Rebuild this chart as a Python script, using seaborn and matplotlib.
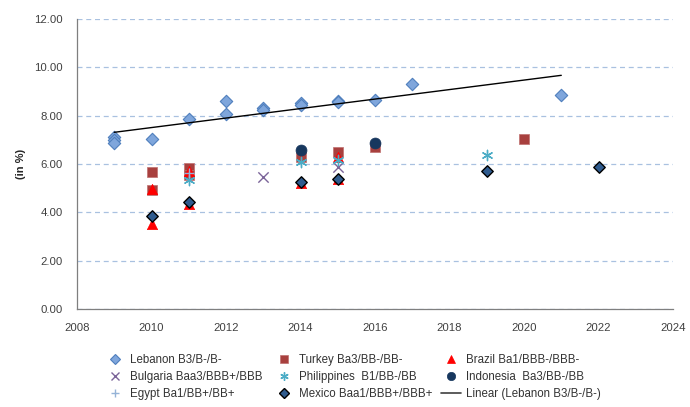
import numpy as np
import pandas as pd
import seaborn as sns
import matplotlib.pyplot as plt
from matplotlib.lines import Line2D

# values
lebanon_year = [2009, 2009, 2009, 2010, 2011, 2012, 2012, 2013, 2013, 2014, 2014, 2015, 2015, 2016, 2017, 2021]
lebanon_val = [7.10, 7.00, 6.85, 7.02, 7.86, 8.59, 8.05, 8.33, 8.23, 8.51, 8.45, 8.60, 8.55, 8.65, 9.31, 8.85]

turkey_year = [2010, 2010, 2011, 2011, 2014, 2015, 2016, 2020]
turkey_val = [5.67, 4.92, 5.82, 5.55, 6.28, 6.50, 6.69, 7.05]

brazil_year = [2010, 2010, 2011, 2011, 2014, 2015, 2015]
brazil_val = [4.98, 3.53, 5.72, 4.36, 5.22, 6.28, 5.40]

bulgaria_year = [2013, 2015]
bulgaria_val = [5.47, 5.89]

philippines_year = [2011, 2014, 2015, 2019]
philippines_val = [5.34, 6.09, 6.17, 6.37]

indonesia_year = [2014, 2016]
indonesia_val = [6.60, 6.85]

egypt_year = [2011]
egypt_val = [5.61]

mexico_year = [2010, 2011, 2014, 2015, 2019, 2022]
mexico_val = [3.85, 4.41, 5.27, 5.38, 5.72, 5.86]

series = [
    ("Lebanon B3/B-/B-", lebanon_year, lebanon_val, "D", "#7FA6DC", "#4F7FBD", 40, 0.8),
    ("Turkey Ba3/BB-/BB-", turkey_year, turkey_val, "s", "#A8403E", "#C07070", 62, 0.5),
    ("Brazil Ba1/BBB-/BBB-", brazil_year, brazil_val, "^", "#FF0000", "#FF0000", 55, 0.5),
    ("Bulgaria Baa3/BBB+/BBB", bulgaria_year, bulgaria_val, "x", "#7B6499", "#7B6499", 55, 1.0),
    ("Philippines  B1/BB-/BB", philippines_year, philippines_val, (6, 2, 0), "#4BACC6", "#4BACC6", 55, 1.0),
    ("Indonesia  Ba3/BB-/BB", indonesia_year, indonesia_val, "o", "#17375E", "#17375E", 62, 0.5),
    ("Egypt Ba1/BB+/BB+", egypt_year, egypt_val, "+", "#95B3D7", "#95B3D7", 60, 1.0),
    ("Mexico Baa1/BBB+/BBB+", mexico_year, mexico_val, "D", "#2F5B8E", "#000000", 34, 1.0),
]

sns.set_style("white")
plt.rcParams['font.family'] = ['Liberation Sans', 'DejaVu Sans']

fig = plt.figure(figsize=(6.9, 4.07), dpi=100)
ax = fig.add_axes([0.1116, 0.2408, 0.8638, 0.7125])

handles = {}
for name, yrs, vals, mk, fc, ec, size, lw in series:
    if mk in ("x", "+", (6, 2, 0)):
        sns.scatterplot(x=yrs, y=vals, ax=ax, marker=mk, color=fc, s=size, linewidth=lw, zorder=3)
    else:
        sns.scatterplot(x=yrs, y=vals, ax=ax, marker=mk, color=fc, edgecolor=ec, s=size, linewidth=lw, zorder=3)
    handles[name] = Line2D([], [], linestyle="none", marker=mk, markersize=6 if mk != "D" else 5,
                           markerfacecolor=fc, markeredgecolor=ec, markeredgewidth=lw, color=fc)

# linear trend for Lebanon
sns.regplot(x=np.array(lebanon_year, dtype=float), y=np.array(lebanon_val), ax=ax, scatter=False,
            ci=None, truncate=True, line_kws=dict(color="black", lw=1.0, zorder=4))
handles["Linear (Lebanon B3/B-/B-)"] = Line2D([], [], color="#404040", lw=1.2)

ax.set_xlim(2008, 2024)
ax.set_ylim(0, 12)
ax.set_xticks(range(2008, 2025, 2))
ax.set_yticks(np.arange(0, 12.1, 2))
ax.yaxis.set_major_formatter(plt.FuncFormatter(lambda v, p: f"{v:.2f}"))
ax.tick_params(axis="both", labelsize=8.2, colors="#404040", width=0.8, direction="out")
ax.tick_params(axis="y", length=4, pad=6)
ax.tick_params(axis="x", length=2, pad=8)
ax.yaxis.grid(True, linestyle=(0, (4, 3)), color="#A9C1E0", lw=0.9)
ax.xaxis.grid(False)
ax.set_axisbelow(True)
for s in ("top", "right"):
    ax.spines[s].set_visible(False)
for s in ("left", "bottom"):
    ax.spines[s].set_color("#7F7F7F")
    ax.spines[s].set_linewidth(0.9)
ax.set_ylabel("(in %)", fontsize=8, fontweight="bold", labelpad=6)
ax.set_xlabel("")

columns = [
    (105, ["Lebanon B3/B-/B-", "Bulgaria Baa3/BBB+/BBB", "Egypt Ba1/BB+/BB+"]),
    (274, ["Turkey Ba3/BB-/BB-", "Philippines  B1/BB-/BB", "Mexico Baa1/BBB+/BBB+"]),
    (441, ["Brazil Ba1/BBB-/BBB-", "Indonesia  Ba3/BB-/BB", "Linear (Lebanon B3/B-/B-)"]),
]
for xpx, names in columns:
    leg = fig.legend([handles[k] for k in names], names, loc="upper left",
                     bbox_to_anchor=(xpx / 690, 1 - 354 / 407), frameon=False, fontsize=8.3,
                     handlelength=1.75, labelspacing=0.42, handletextpad=0.4,
                     borderpad=0, borderaxespad=0, labelcolor="#333333")

fig.savefig("out.png", dpi=100)
